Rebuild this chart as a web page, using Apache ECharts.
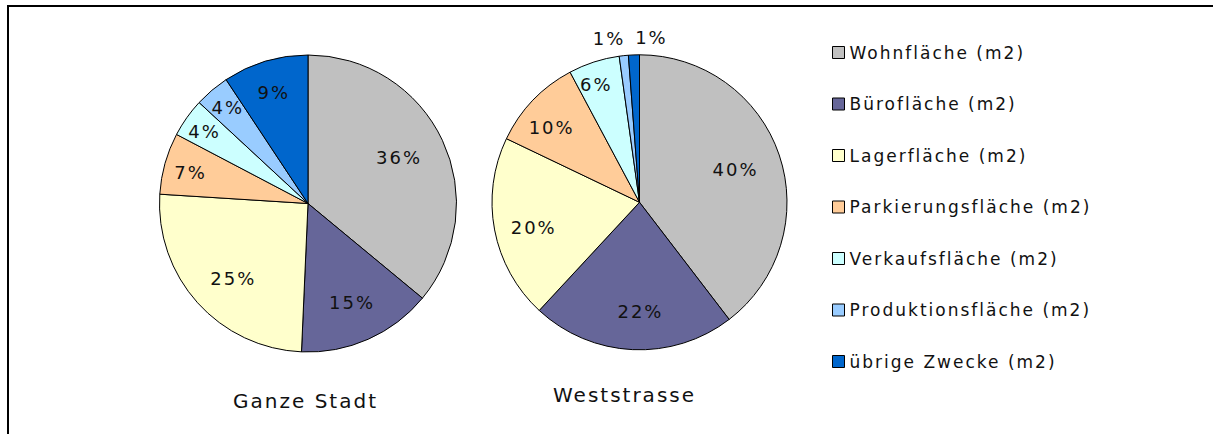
<!DOCTYPE html>
<html>
<head>
<meta charset="utf-8">
<script src="https://cdn.jsdelivr.net/npm/echarts@6/dist/echarts.min.js"></script>
<style>
  html, body { margin: 0; padding: 0; background: #ffffff; }
  #chart { width: 1213px; height: 434px; }
  #chart text { letter-spacing: 2px; }
</style>
</head>
<body>
<div id="chart"></div>
<script>
// ---- data ----
const categories = ['Wohnfläche (m2)', 'Bürofläche (m2)', 'Lagerfläche (m2)', 'Parkierungsfläche (m2)', 'Verkaufsfläche (m2)', 'Produktionsfläche (m2)', 'übrige Zwecke (m2)'];
const ganzeStadt = [36.0, 14.7, 25.3, 6.7, 4.2, 3.8, 9.3];
const weststrasse = [39.6, 22.3, 20.2, 10.1, 5.6, 1.0, 1.2];
const pieTitles = ['Ganze Stadt', 'Weststrasse'];

// ---- styles ----
const palette = ['#C0C0C0', '#666699', '#FFFFCC', '#FFCC99', '#CCFFFF', '#99CCFF', '#0066CC'];
const FONT = '"DejaVu Sans", Verdana, sans-serif';

const pies = [
  { values: ganzeStadt, center: [308, 203.5], r: 148.5, title: pieTitles[0], titlePos: [300.5, 386] },
  { values: weststrasse, center: [639.5, 202.3], r: 147.5, title: pieTitles[1], titlePos: [619.5, 380] }
];

// small nudges of label positions (pixels)
const labelShift = [
  { 0: [-7, 0], 2: [6, 3], 3: [-13, -2], 4: [-15, -9], 5: [-10, -13], 6: [-3, -7] },
  { 0: [-6, 2], 1: [6, 2], 2: [0, 5], 3: [-10, 0], 4: [-10, -15], 5: [-19, -57], 6: [16, -57] }
];

const fmt = p => Math.round(p.percent) + '%';

const series = [];
pies.forEach((p, i) => {
  series.push({
    type: 'pie',
    center: p.center,
    radius: [0, p.r],
    startAngle: 90,
    clockwise: true,
    silent: true,
    animation: false,
    label: { show: false },
    labelLine: { show: false },
    itemStyle: { borderColor: '#000000', borderWidth: 1 },
    emphasis: { disabled: true },
    data: categories.map((c, k) => ({ name: c, value: p.values[k], itemStyle: { color: palette[k] } }))
  });
});
pies.forEach((p, i) => {
  series.push({
    type: 'pie',
    center: p.center,
    radius: [p.r * 0.42, p.r],
    startAngle: 90,
    clockwise: true,
    silent: true,
    animation: false,
    itemStyle: { color: 'rgba(0,0,0,0)', borderWidth: 0 },
    emphasis: { disabled: true },
    labelLine: { show: false },
    label: {
      show: true,
      position: 'inside',
      formatter: fmt,
      fontFamily: FONT,
      fontSize: 18,
      color: '#111111'
    },
    labelLayout: function (params) {
      const s = labelShift[i][params.dataIndex];
      return s ? { dx: s[0], dy: s[1], hideOverlap: false } : { hideOverlap: false };
    },
    data: categories.map((c, k) => ({ name: c, value: p.values[k] }))
  });
});

const chart = echarts.init(document.getElementById('chart'), null, { renderer: 'svg' });
chart.setOption({
  backgroundColor: '#ffffff',
  animation: false,
  title: pies.map(p => ({
    text: p.title,
    left: p.titlePos[0],
    top: p.titlePos[1],
    textAlign: 'center',
    textStyle: { fontFamily: FONT, fontSize: 20, fontWeight: 'normal', color: '#111111' }
  })),
  legend: {
    data: categories,
    orient: 'vertical',
    left: 832,
    top: 44,
    padding: 0,
    itemWidth: 12,
    itemHeight: 12,
    itemGap: 34.5,
    selectedMode: false,
    icon: 'rect',
    itemStyle: { borderColor: '#000000', borderWidth: 1 },
    textStyle: { fontFamily: FONT, fontSize: 17, lineHeight: 17, color: '#111111' }
  },
  graphic: [{
    type: 'rect',
    shape: { x: 8, y: 6, width: 1400, height: 600 },
    style: { fill: 'none', stroke: '#000000', lineWidth: 2 },
    silent: true,
    z: 100
  }],
  series: series
});
</script>
</body>
</html>
